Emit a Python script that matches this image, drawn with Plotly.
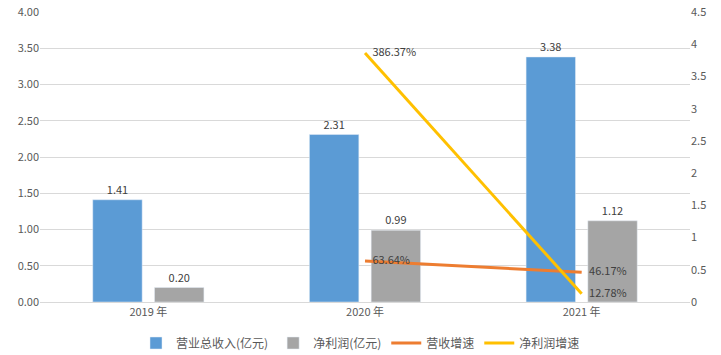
import plotly.graph_objects as go

categories = ["2019 年", "2020 年", "2021 年"]
revenue = [1.41, 2.31, 3.38]
net_profit = [0.20, 0.99, 1.12]
revenue_growth = [None, 63.64, 46.17]
profit_growth = [None, 386.37, 12.78]

font_family = "Noto Sans CJK SC, Noto Sans, sans-serif"
txt_color = "#404040"

fig = go.Figure()
fig.add_trace(go.Bar(
    x=categories, y=revenue, name="营业总收入(亿元)",
    marker_color="#5B9BD5",
    text=[f"{v:.2f}" for v in revenue], textposition="outside",
    textfont=dict(size=11, color=txt_color), cliponaxis=False,
))
fig.add_trace(go.Bar(
    x=categories, y=net_profit, name="净利润(亿元)",
    marker_color="#A5A5A5",
    text=[f"{v:.2f}" for v in net_profit], textposition="outside",
    textfont=dict(size=11, color=txt_color), cliponaxis=False,
))
fig.add_trace(go.Scatter(
    x=categories, y=[None if v is None else v / 100 for v in revenue_growth],
    name="营收增速", mode="lines+text", yaxis="y2",
    line=dict(color="#ED7D31", width=3),
    text=["" if v is None else f"   {v:.2f}%" for v in revenue_growth],
    textposition="middle right",
    textfont=dict(size=11, color=txt_color), cliponaxis=False,
))
fig.add_trace(go.Scatter(
    x=categories, y=[None if v is None else v / 100 for v in profit_growth],
    name="净利润增速", mode="lines+text", yaxis="y2",
    line=dict(color="#FFC000", width=3),
    text=["" if v is None else f"   {v:.2f}%" for v in profit_growth],
    textposition="middle right",
    textfont=dict(size=11, color=txt_color), cliponaxis=False,
))

fig.update_layout(
    width=721, height=355,
    margin=dict(l=40, r=31, t=12, b=53, autoexpand=False),
    paper_bgcolor="white", plot_bgcolor="white",
    font=dict(family=font_family, size=11, color="#595959"),
    barmode="group", bargap=0.43, bargroupgap=0.2,
    showlegend=True,
    legend=dict(orientation="h", x=0.5, xanchor="center", xref="container",
                y=12 / 355, yanchor="middle", yref="container",
                font=dict(size=12, color="#595959"), itemwidth=30,
                tracegroupgap=0),
    xaxis=dict(showline=True, linecolor="#D9D9D9", linewidth=1, ticks="",
               automargin=False, tickfont=dict(size=11, color="#595959")),
    yaxis=dict(range=[0, 4], dtick=0.5, tickformat=".2f", showgrid=True,
               gridcolor="#D9D9D9", zeroline=False, showline=False,
               automargin=False, tickfont=dict(size=11, color="#595959")),
    yaxis2=dict(range=[0, 4.5], dtick=0.5, overlaying="y", side="right",
                showgrid=False, zeroline=False, showline=False,
                automargin=False, tickfont=dict(size=11, color="#595959")),
)

fig.write_html("out.html", config={"displayModeBar": False},
               post_script="document.body.style.margin='0px';")
